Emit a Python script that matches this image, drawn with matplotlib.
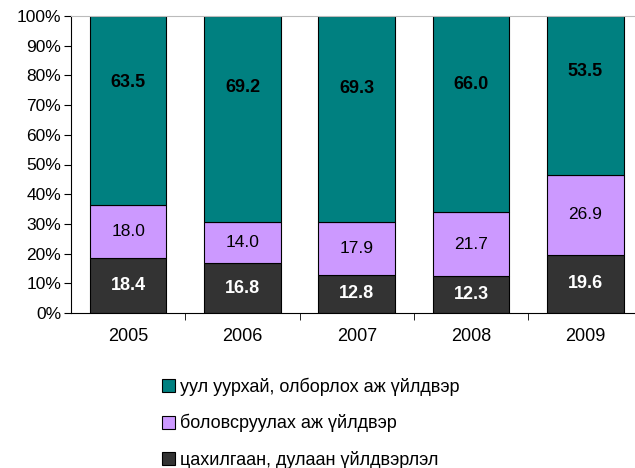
import matplotlib
matplotlib.use("Agg")
import matplotlib.pyplot as plt
import matplotlib.patches as mpatches
import numpy as np

plt.rcParams["font.family"] = ["Liberation Sans", "DejaVu Sans"]

years = ["2005", "2006", "2007", "2008", "2009"]
power = [18.4, 16.8, 12.8, 12.3, 19.6]        # цахилгаан, дулаан
manuf = [18.0, 14.0, 17.9, 21.7, 26.9]        # боловсруулах
mining = [63.5, 69.2, 69.3, 66.0, 53.5]       # уул уурхай

labels = ["уул уурхай, олборлох аж үйлдвэр",
          "боловсруулах аж үйлдвэр",
          "цахилгаан, дулаан үйлдвэрлэл"]

C_MINING = "#008080"
C_MANUF = "#CC99FF"
C_POWER = "#333333"

fig = plt.figure(figsize=(6.35, 4.68), dpi=100)
ax = fig.add_axes([71 / 635, 1 - 313 / 468, 571.5 / 635, 297 / 468])

x = np.arange(len(years))
tot = np.array(power) + np.array(manuf) + np.array(mining)
p = np.array(power) / tot * 100
m = np.array(manuf) / tot * 100
g = np.array(mining) / tot * 100

w = 0.67
ax.bar(x, p, w, color=C_POWER, edgecolor="black", linewidth=0.8)
ax.bar(x, m, w, bottom=p, color=C_MANUF, edgecolor="black", linewidth=0.8)
ax.bar(x, g, w, bottom=p + m, color=C_MINING, edgecolor="black", linewidth=0.8)

for i in range(len(years)):
    ax.text(x[i], p[i] / 2, f"{power[i]:.1f}", ha="center", va="center",
            color="white", fontsize=13, fontweight="bold")
    ax.text(x[i], p[i] + m[i] / 2, f"{manuf[i]:.1f}", ha="center", va="center",
            color="black", fontsize=12.5)
    ax.text(x[i], 100 - 0.35 * g[i], f"{mining[i]:.1f}", ha="center", va="center",
            color="black", fontsize=13, fontweight="bold")

ax.set_xlim(-0.5, len(years) - 0.5)
ax.set_ylim(0, 100)
ax.set_yticks(np.arange(0, 101, 10))
ax.set_yticklabels([f"{v}%" for v in range(0, 101, 10)], fontsize=12.5)
ax.set_xticks(x)
ax.set_xticklabels(years, fontsize=13)
ax.set_xticks(np.arange(0.5, len(years) - 0.5, 1), minor=True)
ax.tick_params(axis="x", which="major", length=0, pad=11)
ax.tick_params(axis="x", which="minor", length=5, direction="out", color="black")
ax.tick_params(axis="y", length=5, direction="out", pad=2)

ax.spines["right"].set_visible(False)
ax.spines["top"].set_color("#BBBBBB")
ax.spines["top"].set_linewidth(0.8)
ax.spines["left"].set_linewidth(0.8)
ax.spines["bottom"].set_linewidth(0.8)

handles = [mpatches.Patch(facecolor=c, edgecolor="black", linewidth=0.8)
           for c in (C_MINING, C_MANUF, C_POWER)]
fig.legend(handles, labels, loc="upper left",
           bbox_to_anchor=(155 / 635, 1 - 370 / 468), frameon=False,
           fontsize=13, handlelength=0.72, handleheight=0.72,
           handletextpad=0.28, labelspacing=1.03, borderaxespad=0)

plt.savefig("out.png", dpi=100)
plt.close()
